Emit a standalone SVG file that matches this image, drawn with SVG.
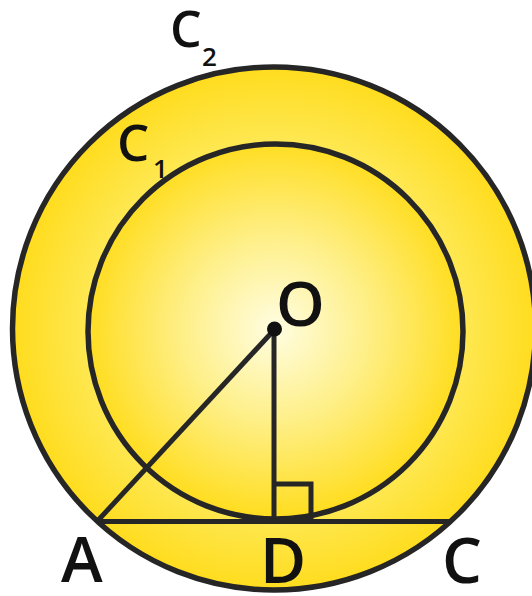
<svg xmlns="http://www.w3.org/2000/svg" width="532" height="596" viewBox="0 0 532 596">
  <style>
    .ln{fill:none;stroke:#262626;stroke-width:5;stroke-linecap:butt}
    .circ{stroke:#262626;stroke-width:5.5}
    .lbl{font-family:"Open Sans","Liberation Sans",sans-serif;font-weight:600;fill:#111}
  </style>
  <defs>
    <radialGradient id="gOuter" cx="275" cy="329" r="261" gradientUnits="userSpaceOnUse">
      <stop offset="0" stop-color="#FFFDE6"/>
      <stop offset="0.72" stop-color="#FEE852"/>
      <stop offset="1" stop-color="#FFDC1E"/>
    </radialGradient>
    <radialGradient id="gInner" cx="275" cy="329" r="188" gradientUnits="userSpaceOnUse">
      <stop offset="0" stop-color="#FFFDE2"/>
      <stop offset="0.5" stop-color="#FEEF86"/>
      <stop offset="1" stop-color="#FFDD20"/>
    </radialGradient>
  </defs>
  <g id="C2">
    <circle cx="274" cy="328.5" r="261.5" fill="url(#gOuter)" class="circ"/>
    <text class="lbl" x="170" y="47" font-size="50">C</text>
    <text class="lbl" x="202" y="66" font-size="26">2</text>
  </g>
  <g id="C1">
    <circle cx="275.5" cy="331.5" r="187.5" fill="url(#gInner)" class="circ"/>
    <text class="lbl" x="117" y="161" font-size="51">C</text>
    <text class="lbl" x="153" y="178" font-size="26">1</text>
  </g>
  <g id="connectors">
    <line class="ln" x1="275" y1="329" x2="97" y2="521.5"/>
    <line class="ln" x1="274" y1="329" x2="274" y2="521.5"/>
    <line class="ln" x1="97" y1="521.5" x2="451" y2="521.5"/>
    <polyline class="ln" points="274,484 311,484 311,521.5"/>
  </g>
  <g id="O">
    <circle cx="274.5" cy="329" r="7.5" fill="#111"/>
    <text class="lbl" x="276" y="326" font-size="62">O</text>
  </g>
  <g id="A">
    <text class="lbl" x="61" y="582" font-size="63">A</text>
  </g>
  <g id="D">
    <text class="lbl" x="260" y="583" font-size="63">D</text>
  </g>
  <g id="C">
    <text class="lbl" x="442" y="583" font-size="63">C</text>
  </g>
</svg>
